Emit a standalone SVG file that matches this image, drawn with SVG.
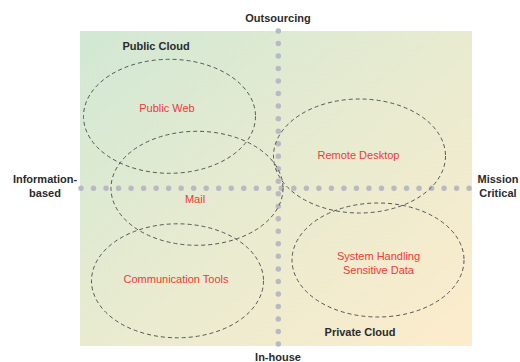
<svg xmlns="http://www.w3.org/2000/svg" width="520" height="362" viewBox="0 0 520 362">
<defs>
<linearGradient id="bg" x1="0" y1="0" x2="1" y2="1">
<stop offset="0" stop-color="#d1e8d4"/>
<stop offset="0.5" stop-color="#e8ebd0"/>
<stop offset="1" stop-color="#fdeccc"/>
</linearGradient>
</defs>
<style>
.ax{font-family:"Liberation Sans",Arial,sans-serif;font-size:11px;font-weight:bold;fill:#2b2b2b;text-anchor:middle}
.lb{font-family:"Liberation Sans",Arial,sans-serif;font-size:11px;fill:#ec3b3b;text-anchor:middle}
.el{fill:none;stroke:#555;stroke-width:1;stroke-dasharray:4 3}
.dot{stroke:#b9b9c3;stroke-width:5.5;stroke-linecap:round;stroke-dasharray:0 12.52;fill:none}
</style>
<rect x="80" y="31" width="392" height="315" fill="url(#bg)"/>
<g id="connectors">
<line class="dot" x1="278.3" y1="31" x2="278.3" y2="345"/>
<line class="dot" x1="81" y1="188.3" x2="470" y2="188.3"/>
</g>
<g id="axis-top"><text class="ax" x="278" y="22">Outsourcing</text></g>
<g id="axis-bottom"><text class="ax" x="278" y="361">In-house</text></g>
<g id="axis-left"><text class="ax" x="45" y="182.5">Information-</text><text class="ax" x="45" y="197.3">based</text></g>
<g id="axis-right"><text class="ax" x="498" y="182.5">Mission</text><text class="ax" x="498" y="197.3">Critical</text></g>
<g id="public-cloud"><text class="ax" x="156" y="49.5">Public Cloud</text></g>
<g id="private-cloud"><text class="ax" x="360" y="335.5">Private Cloud</text></g>
<g id="public-web"><ellipse class="el" cx="169.5" cy="116.3" rx="86" ry="57"/><text class="lb" x="167" y="112">Public Web</text></g>
<g id="mail"><ellipse class="el" cx="197" cy="188.3" rx="86" ry="57"/><text class="lb" x="195" y="202.7">Mail</text></g>
<g id="communication-tools"><ellipse class="el" cx="177.5" cy="280.8" rx="86" ry="57"/><text class="lb" x="176" y="282.7">Communication Tools</text></g>
<g id="remote-desktop"><ellipse class="el" cx="359.5" cy="156" rx="86" ry="57"/><text class="lb" x="358.5" y="158.7">Remote Desktop</text></g>
<g id="system-handling"><ellipse class="el" cx="378" cy="260" rx="86" ry="57"/><text class="lb" x="378.5" y="260">System Handling</text><text class="lb" x="378.5" y="274.3">Sensitive Data</text></g>
</svg>
